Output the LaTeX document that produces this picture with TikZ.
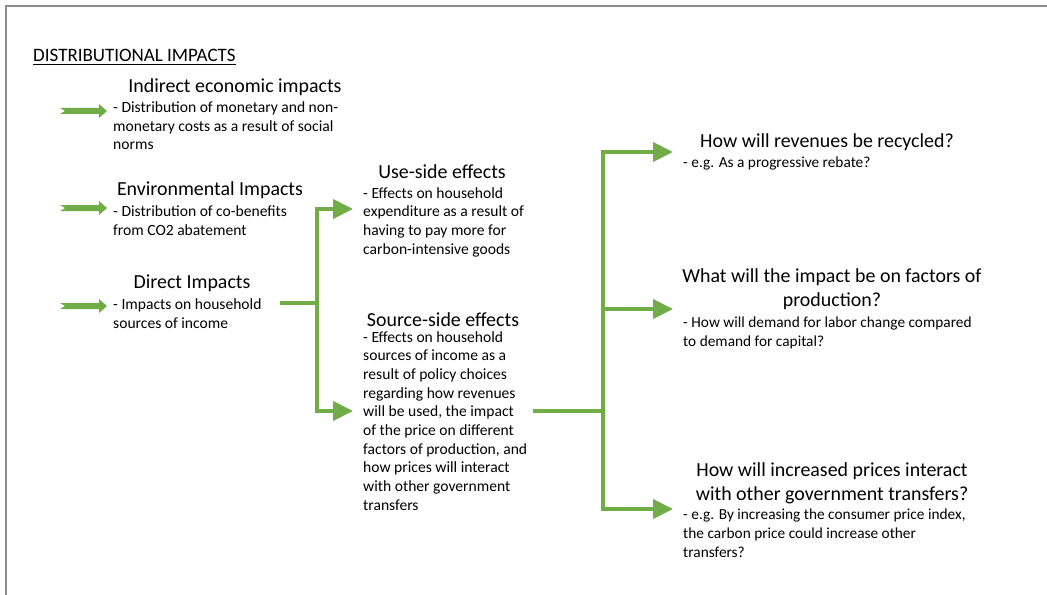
\documentclass[tikz,border=0pt]{standalone}
\usepackage{fontspec}
\setmainfont{Carlito}
\usetikzlibrary{arrows.meta}
\definecolor{leafgreen}{HTML}{70AD47}
\tikzset{notched/.pic={\fill[leafgreen] (0,-3) -- (39,-3) -- (39,-7) -- (47,0) -- (39,7) -- (39,3) -- (0,3) -- (5,0) -- cycle;}}
\begin{document}
\begin{tikzpicture}[x=0.03cm, y=-0.03cm,
    head/.style={inner sep=0pt, anchor=base, align=center, font=\fontsize{17}{20}\selectfont},
    body/.style={inner sep=0pt, anchor=base west, align=left, font=\fontsize{13.3}{15.9}\selectfont},
    note/.style={body, font=\fontsize{13.1}{15.8}\selectfont},
    flow/.style={draw=leafgreen, line width=3.4pt},
    tip/.style={flow, -{Triangle[length=6mm, width=5.7mm]}},
    frame/.style={draw=black!45, line width=1.4pt},
]
\useasboundingbox (0,0) rectangle (1047,595);
\draw[frame] (6,595) -- (6,6) -- (1047,6);

% multi-line nodes sit on the baseline of their last line
\node[inner sep=0pt, anchor=base west, font=\fontsize{16.2}{18}\selectfont] (title) at (33,62) {\underline{DISTRIBUTIONAL IMPACTS}};

% left column
\node[head] (indirect) at (235,93) {Indirect economic impacts};
\node[body] (indirectB) at (113,150) {- Distribution of monetary and non-\\monetary costs as a result of social\\norms};
\node[head] (enviro) at (210,196) {Environmental Impacts};
\node[body] (enviroB) at (113,235.5) {- Distribution of co-benefits\\from CO2 abatement};
\node[head] (direct) at (192,288) {Direct Impacts};
\node[body] (directB) at (113,328.5) {- Impacts on household\\sources of income};

\pic at (60,111) {notched};
\pic at (60,208) {notched};
\pic at (60,306) {notched};

% middle column
\node[head] (use) at (442,178) {Use-side effects};
\node[body] (useB) at (363,254) {- Effects on household\\expenditure as a result of\\having to pay more for\\carbon-intensive goods};
\node[head] (source) at (443,326) {Source-side effects};
\node[body] (sourceB) at (363,510) {- Effects on household\\sources of income as a\\result of policy choices\\regarding how revenues\\will be used, the impact\\of the price on different\\factors of production, and\\how prices will interact\\with other government\\transfers};

% right column
\node[head] (recycle) at (827,148) {How will revenues be recycled?};
\node[note] (recycleB) at (683,168) {- e.g. As a progressive rebate?};
\node[head] (factors) at (832,306) {What will the impact be on factors of\\production?};
\node[note] (factorsB) at (683,346.5) {- How will demand for labor change compared\\to demand for capital?};
\node[head] (prices) at (832,500) {How will increased prices interact\\with other government transfers?};
\node[note] (pricesB) at (683,557) {- e.g. By increasing the consumer price index,\\the carbon price could increase other\\transfers?};

% connectors
\coordinate (directOut) at (280,303);
\coordinate (forkA) at (317,303);
\coordinate (useIn) at (353,209);
\coordinate (sourceIn) at (353,411);
\coordinate (sourceOut) at (533,411);
\coordinate (forkB) at (603,411);
\coordinate (recycleIn) at (673,152);
\coordinate (factorsIn) at (673,309);
\coordinate (pricesIn) at (673,509);

\draw[flow] (directOut) -- (forkA);
\draw[tip] (forkA) |- (useIn);
\draw[tip] (forkA) |- (sourceIn);
\draw[flow] (sourceOut) -- (forkB);
\draw[tip] (forkB) |- (recycleIn);
\draw[tip] (forkB) |- (factorsIn);
\draw[tip] (forkB) |- (pricesIn);
\end{tikzpicture}
\end{document}
